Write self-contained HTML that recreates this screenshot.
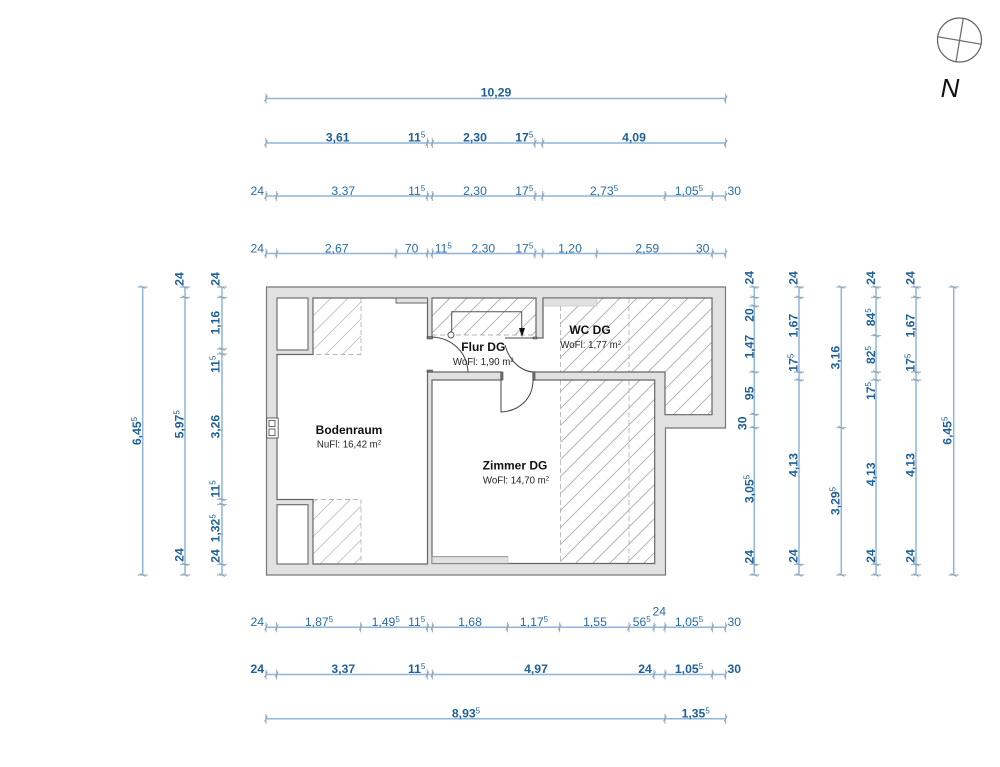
<!DOCTYPE html>
<html>
<head>
<meta charset="utf-8">
<style>
html,body{margin:0;padding:0;background:#fff;width:1000px;height:767px;overflow:hidden}
svg{display:block}
text{font-family:"Liberation Sans",sans-serif}
.d text{font-size:12.2px;fill:#2b6ca3;text-anchor:middle}
.b text{font-size:12.2px;fill:#1f6096;text-anchor:middle;font-weight:bold}
.s{font-size:8px;font-weight:normal}
.dl{stroke:#8fb6da;stroke-width:1.5;fill:none}
.r{font-size:12px;font-weight:bold;fill:#111;text-anchor:middle}
.a{font-size:9.7px;fill:#222;text-anchor:middle}
</style>
</head>
<body>
<svg width="1000" height="767" viewBox="0 0 1000 767" xmlns="http://www.w3.org/2000/svg">
<defs>
<pattern id="h" patternUnits="userSpaceOnUse" width="17" height="17"><path d="M-1 18L18 -1M-1 1L1 -1M16 18L18 16" stroke="#a8a8a8" stroke-width=".8" fill="none"/></pattern>
<g id="t"><path d="M0 -5V5M-1.500 3L1.500 -3" stroke="#8aa2b5" stroke-width=".9" fill="none"/></g>
<g id="v"><path d="M-5 0H5M-3 -1.500L3 1.500" stroke="#8aa2b5" stroke-width=".9" fill="none"/></g>
</defs>

<!-- compass -->
<g fill="none" stroke="#666" stroke-width="1.2">
<circle cx="959.5" cy="40" r="22"/>
<path d="M963.3 18.3L956 61.7M937.3 36.7L981.7 44.3"/>
</g>
<text x="950" y="97" font-size="26" font-style="italic" text-anchor="middle" fill="#111">N</text>

<!-- plan -->
<polygon points="266.5,287 725.5,287 725.5,428 665.5,428 665.5,575 266.5,575" fill="#e1e1e1" stroke="#777" stroke-width="1.2"/>
<polygon points="313,298 427.5,298 427.5,338 432,338 432,298 536,298 536,338 543,338 543,298 712,298 712,414.7 665,414.7 665,372 533,372 533,380 654.7,380 654.7,563.5 432,563.5 432,380 501,380 501,372 427.5,372 427.5,564 313,564 313,499.5 277,499.5 277,354.5 313,354.5" fill="#fff"/>
<rect x="277" y="298" width="31" height="52" fill="#fff" stroke="#666" stroke-width="1.1"/>
<rect x="277" y="504.7" width="31" height="59.3" fill="#fff" stroke="#666" stroke-width="1.1"/>
<g fill="url(#h)">
<rect x="313" y="298" width="48" height="56.5" opacity=".75"/>
<rect x="313" y="499.5" width="48" height="64.5" opacity=".75"/>
<rect x="432" y="298" width="104" height="37"/>
<polygon points="560.5,298 712,298 712,414.7 665,414.7 665,372 560.5,372"/>
<rect x="560.5" y="380" width="94.2" height="183.5"/>
</g>
<path d="M361 298V354.5H313M313 499.5H361V564M432 335H536M560.5 306V372M560.5 380V563.5M629 298V372M629 380V563.5" stroke="#b5b5b5" stroke-width=".9" stroke-dasharray="5 3" fill="none"/>
<polygon points="313,298 427.5,298 427.5,338 432,338 432,298 536,298 536,338 543,338 543,298 712,298 712,414.7 665,414.7 665,372 533,372 533,380 654.7,380 654.7,563.5 432,563.5 432,380 501,380 501,372 427.5,372 427.5,564 313,564 313,499.5 277,499.5 277,354.5 313,354.5" fill="none" stroke="#666" stroke-width="1.2"/>
<rect x="396" y="298" width="31.5" height="5" fill="#e1e1e1" stroke="#666" stroke-width="1"/>
<rect x="543" y="298" width="54" height="8" fill="#e1e1e1" stroke="#bbb" stroke-width=".6"/>
<path d="M543 298H597M543 298V338" stroke="#666" stroke-width="1.1" fill="none"/>
<rect x="432" y="556.7" width="76" height="6.8" fill="#e1e1e1" stroke="#bbb" stroke-width=".6"/>
<path d="M432 556.7H508M432 556.7V563.5H508" stroke="#888" stroke-width=".9" fill="none"/>
<!-- chimney -->
<rect x="266.7" y="418" width="11.5" height="20" fill="#fff" stroke="#666" stroke-width="1"/>
<path d="M269 420.5h6v6h-6zM269 429h6v6.5h-6z" fill="none" stroke="#666" stroke-width="1"/>
<!-- doors -->
<g fill="none" stroke="#444" stroke-width="1">
<path d="M432 337C452 338 467 352 468 372"/>
<path d="M505 338H536M505 345C509 360 520 371 533 372"/>
<path d="M501 380V412C520 411 533 398 533 380"/>
</g>
<path d="M427 336.5h5.500v2.500h-5.500zM427 370h5.500v2h-5.500zM533 337h4v2h-4zM501 372h2v8h-2zM533 372h2v8h-2z" fill="#777" stroke="#444" stroke-width=".6"/>
<!-- stair -->
<path d="M451.700 332V311.700H521.700V329" fill="none" stroke="#555" stroke-width="1"/>
<circle cx="451" cy="335" r="3" fill="#fff" stroke="#555" stroke-width=".9"/>
<path d="M519 328H525L522 337Z" fill="#111"/>

<text x="349" y="434" class="r">Bodenraum</text>
<text x="349" y="447.500" class="a">NuFl: 16,42 m<tspan dy="-3" font-size="6">2</tspan></text>
<text x="483.300" y="351" class="r">Flur DG</text>
<text x="483.300" y="365" class="a">WoFl: 1,90 m<tspan dy="-3" font-size="6">2</tspan></text>
<text x="590" y="334" class="r">WC DG</text>
<text x="590.700" y="348" class="a">WoFl: 1,77 m<tspan dy="-3" font-size="6">2</tspan></text>
<text x="515" y="469.500" class="r">Zimmer DG</text>
<text x="516" y="483.500" class="a">WoFl: 14,70 m<tspan dy="-3" font-size="6">2</tspan></text>

<!-- dimension lines -->
<path class="dl" d="M266 98.500H725.700M266 143H725.700M266 196H725.700M266 253.500H725.700M266 627.300H725.700M266 674.500H725.700M266 718.700H725.700M142.700 287V575M185 287V575M222 287V575M754.300 287V575M799 287V575M841.300 287V575M876 287V575M916 287V575M953.700 287V575"/>

<!-- ticks horizontal -->
<g>
<use href="#t" x="266" y="98.500"/><use href="#t" x="725.700" y="98.500"/>
<use href="#t" x="266" y="143"/><use href="#t" x="427.300" y="143"/><use href="#t" x="432.300" y="143"/><use href="#t" x="535" y="143"/><use href="#t" x="542.700" y="143"/><use href="#t" x="725.700" y="143"/>
<use href="#t" x="266" y="196"/><use href="#t" x="276.700" y="196"/><use href="#t" x="427.300" y="196"/><use href="#t" x="432.300" y="196"/><use href="#t" x="535" y="196"/><use href="#t" x="542.700" y="196"/><use href="#t" x="665" y="196"/><use href="#t" x="712.300" y="196"/><use href="#t" x="725.700" y="196"/>
<use href="#t" x="266" y="253.500"/><use href="#t" x="276.700" y="253.500"/><use href="#t" x="396" y="253.500"/><use href="#t" x="427.300" y="253.500"/><use href="#t" x="432.300" y="253.500"/><use href="#t" x="535" y="253.500"/><use href="#t" x="542.700" y="253.500"/><use href="#t" x="596.700" y="253.500"/><use href="#t" x="712.300" y="253.500"/><use href="#t" x="725.700" y="253.500"/>
<use href="#t" x="266" y="627.300"/><use href="#t" x="276.700" y="627.300"/><use href="#t" x="360.700" y="627.300"/><use href="#t" x="427.300" y="627.300"/><use href="#t" x="432.300" y="627.300"/><use href="#t" x="507.300" y="627.300"/><use href="#t" x="559.700" y="627.300"/><use href="#t" x="629" y="627.300"/><use href="#t" x="654" y="627.300"/><use href="#t" x="665" y="627.300"/><use href="#t" x="712.300" y="627.300"/><use href="#t" x="725.700" y="627.300"/>
<use href="#t" x="266" y="674.500"/><use href="#t" x="276.700" y="674.500"/><use href="#t" x="427.300" y="674.500"/><use href="#t" x="432.300" y="674.500"/><use href="#t" x="654" y="674.500"/><use href="#t" x="665" y="674.500"/><use href="#t" x="712.300" y="674.500"/><use href="#t" x="725.700" y="674.500"/>
<use href="#t" x="266" y="718.700"/><use href="#t" x="665" y="718.700"/><use href="#t" x="725.700" y="718.700"/>
</g>
<!-- ticks vertical -->
<g>
<use href="#v" x="142.700" y="287"/><use href="#v" x="142.700" y="575"/>
<use href="#v" x="185" y="287"/><use href="#v" x="185" y="297.300"/><use href="#v" x="185" y="564.300"/><use href="#v" x="185" y="575"/>
<use href="#v" x="222" y="287"/><use href="#v" x="222" y="297.300"/><use href="#v" x="222" y="349"/><use href="#v" x="222" y="354"/><use href="#v" x="222" y="499.300"/><use href="#v" x="222" y="504.300"/><use href="#v" x="222" y="564.300"/><use href="#v" x="222" y="575"/>
<use href="#v" x="754.300" y="287"/><use href="#v" x="754.300" y="297.300"/><use href="#v" x="754.300" y="306"/><use href="#v" x="754.300" y="372"/><use href="#v" x="754.300" y="414.300"/><use href="#v" x="754.300" y="427.700"/><use href="#v" x="754.300" y="564.300"/><use href="#v" x="754.300" y="575"/>
<use href="#v" x="799" y="287"/><use href="#v" x="799" y="297.300"/><use href="#v" x="799" y="372"/><use href="#v" x="799" y="380"/><use href="#v" x="799" y="564.300"/><use href="#v" x="799" y="575"/>
<use href="#v" x="841.300" y="287"/><use href="#v" x="841.300" y="427.700"/><use href="#v" x="841.300" y="575"/>
<use href="#v" x="876" y="287"/><use href="#v" x="876" y="297.300"/><use href="#v" x="876" y="335.700"/><use href="#v" x="876" y="372"/><use href="#v" x="876" y="380"/><use href="#v" x="876" y="564.300"/><use href="#v" x="876" y="575"/>
<use href="#v" x="916" y="287"/><use href="#v" x="916" y="297.300"/><use href="#v" x="916" y="372"/><use href="#v" x="916" y="380"/><use href="#v" x="916" y="564.300"/><use href="#v" x="916" y="575"/>
<use href="#v" x="953.700" y="287"/><use href="#v" x="953.700" y="575"/>
</g>

<!-- bold horizontal labels -->
<g class="b">
<text x="496" y="96.500">10,29</text>
<text x="337.700" y="141.500">3,61</text>
<text x="416.700" y="141.500">11<tspan class="s" dy="-4">5</tspan></text>
<text x="475" y="141.500">2,30</text>
<text x="524.300" y="141.500">17<tspan class="s" dy="-4">5</tspan></text>
<text x="634" y="141.500">4,09</text>
<text x="257.300" y="673">24</text>
<text x="343.300" y="673">3,37</text>
<text x="416.700" y="673">11<tspan class="s" dy="-4">5</tspan></text>
<text x="536" y="673">4,97</text>
<text x="645" y="673">24</text>
<text x="689" y="673">1,05<tspan class="s" dy="-4">5</tspan></text>
<text x="734.300" y="673">30</text>
<text x="466" y="717.500">8,93<tspan class="s" dy="-4">5</tspan></text>
<text x="695.700" y="717.500">1,35<tspan class="s" dy="-4">5</tspan></text>
</g>
<!-- regular horizontal labels -->
<g class="d">
<text x="257.300" y="195">24</text>
<text x="343.300" y="195">3,37</text>
<text x="416.700" y="195">11<tspan class="s" dy="-4">5</tspan></text>
<text x="475" y="195">2,30</text>
<text x="524.300" y="195">17<tspan class="s" dy="-4">5</tspan></text>
<text x="604" y="195">2,73<tspan class="s" dy="-4">5</tspan></text>
<text x="689" y="195">1,05<tspan class="s" dy="-4">5</tspan></text>
<text x="734.300" y="195">30</text>
<text x="257.300" y="252.500">24</text>
<text x="336.700" y="252.500">2,67</text>
<text x="411.700" y="252.500">70</text>
<text x="443.300" y="252.500">11<tspan class="s" dy="-4">5</tspan></text>
<text x="483.300" y="252.500">2,30</text>
<text x="524.300" y="252.500">17<tspan class="s" dy="-4">5</tspan></text>
<text x="570" y="252.500">1,20</text>
<text x="647.300" y="252.500">2,59</text>
<text x="702.700" y="252.500">30</text>
<text x="257.300" y="626">24</text>
<text x="319" y="626">1,87<tspan class="s" dy="-4">5</tspan></text>
<text x="385.700" y="626">1,49<tspan class="s" dy="-4">5</tspan></text>
<text x="416.700" y="626">11<tspan class="s" dy="-4">5</tspan></text>
<text x="470" y="626">1,68</text>
<text x="534" y="626">1,17<tspan class="s" dy="-4">5</tspan></text>
<text x="595" y="626">1,55</text>
<text x="641.700" y="626">56<tspan class="s" dy="-4">5</tspan></text>
<text x="659.300" y="615.300">24</text>
<text x="689" y="626">1,05<tspan class="s" dy="-4">5</tspan></text>
<text x="734.300" y="626">30</text>
</g>
<!-- vertical labels -->
<g class="b">
<text transform="translate(141,431) rotate(-90)">6,45<tspan class="s" dy="-4">5</tspan></text>
<text transform="translate(183.300,279) rotate(-90)">24</text>
<text transform="translate(183.300,424.300) rotate(-90)">5,97<tspan class="s" dy="-4">5</tspan></text>
<text transform="translate(183.300,555) rotate(-90)">24</text>
<text transform="translate(219.600,279) rotate(-90)">24</text>
<text transform="translate(219.600,322.700) rotate(-90)">1,16</text>
<text transform="translate(219.600,364.300) rotate(-90)">11<tspan class="s" dy="-4">5</tspan></text>
<text transform="translate(219.600,426.700) rotate(-90)">3,26</text>
<text transform="translate(219.600,489) rotate(-90)">11<tspan class="s" dy="-4">5</tspan></text>
<text transform="translate(219.600,528.300) rotate(-90)">1,32<tspan class="s" dy="-4">5</tspan></text>
<text transform="translate(219.600,556) rotate(-90)">24</text>
<text transform="translate(753.300,277.700) rotate(-90)">24</text>
<text transform="translate(753.300,315) rotate(-90)">20</text>
<text transform="translate(753.300,346.700) rotate(-90)">1,47</text>
<text transform="translate(753.300,393.300) rotate(-90)">95</text>
<text transform="translate(746.600,423.300) rotate(-90)">30</text>
<text transform="translate(753.300,489) rotate(-90)">3,05<tspan class="s" dy="-4">5</tspan></text>
<text transform="translate(753.300,556.700) rotate(-90)">24</text>
<text transform="translate(797.600,278) rotate(-90)">24</text>
<text transform="translate(797.600,325.700) rotate(-90)">1,67</text>
<text transform="translate(797.600,362.700) rotate(-90)">17<tspan class="s" dy="-4">5</tspan></text>
<text transform="translate(797.600,465) rotate(-90)">4,13</text>
<text transform="translate(797.600,556) rotate(-90)">24</text>
<text transform="translate(839.300,357.700) rotate(-90)">3,16</text>
<text transform="translate(839.300,501) rotate(-90)">3,29<tspan class="s" dy="-4">5</tspan></text>
<text transform="translate(875,278) rotate(-90)">24</text>
<text transform="translate(875,317.300) rotate(-90)">84<tspan class="s" dy="-4">5</tspan></text>
<text transform="translate(875,355) rotate(-90)">82<tspan class="s" dy="-4">5</tspan></text>
<text transform="translate(875,391) rotate(-90)">17<tspan class="s" dy="-4">5</tspan></text>
<text transform="translate(875,474.300) rotate(-90)">4,13</text>
<text transform="translate(875,556) rotate(-90)">24</text>
<text transform="translate(914.300,278) rotate(-90)">24</text>
<text transform="translate(914.300,325.700) rotate(-90)">1,67</text>
<text transform="translate(914.300,362.700) rotate(-90)">17<tspan class="s" dy="-4">5</tspan></text>
<text transform="translate(914.300,465) rotate(-90)">4,13</text>
<text transform="translate(914.300,556) rotate(-90)">24</text>
<text transform="translate(951.600,430.700) rotate(-90)">6,45<tspan class="s" dy="-4">5</tspan></text>
</g>
</svg>
</body>
</html>
